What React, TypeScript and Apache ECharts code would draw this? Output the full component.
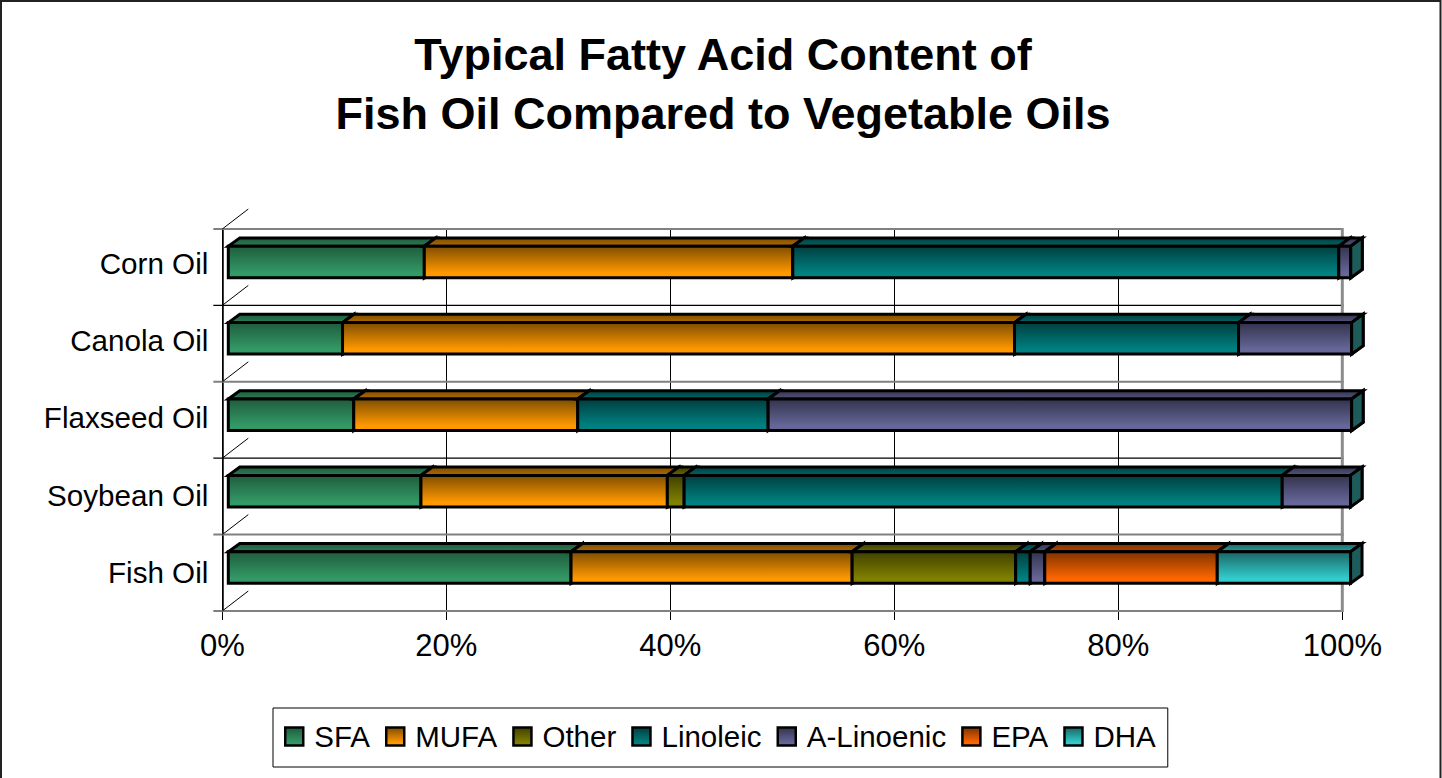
import React, { useEffect, useRef } from "react";
import * as echarts from "echarts";

const oils = ["Fish Oil", "Soybean Oil", "Flaxseed Oil", "Canola Oil", "Corn Oil"];
const sfa = [30.6, 17.2, 11.2, 10.2, 17.5];
const mufa = [25.1, 22, 20, 60, 32.9];
const other = [14.6, 1.5, 0, 0, 0];
const linoleic = [1.3, 53.4, 17, 20, 48.75];
const aLinoenic = [1.3, 6.1, 52.1, 10.1, 1.07];
const epa = [15.4, 0, 0, 0, 0];
const dha = [11.9, 0, 0, 0, 0];

const seriesNames = ["SFA", "MUFA", "Other", "Linoleic", "A-Linoenic", "EPA", "DHA"];
const seriesValues = [sfa, mufa, other, linoleic, aLinoenic, epa, dha];
// [bright, dark, top-face light, side]
const palette = [
  ["#339966", "#1f5c3d", "#2b7d54", "#1f5c3d"],
  ["#ff9900", "#7f4d00", "#b06a00", "#7f4d00"],
  ["#808000", "#404000", "#666600", "#4d4d00"],
  ["#008080", "#003f3f", "#006666", "#004d4d"],
  ["#666699", "#33334d", "#55557f", "#3d3d5c"],
  ["#ff6600", "#7f3300", "#b04700", "#803300"],
  ["#33cccc", "#1a6666", "#2a9d9d", "#1e5c5c"],
];
const boundaryColors = ["#808080", "#808080", "#000000", "#808080", "#000000", "#808080"];
const labelLift = [0, 1, 3, 3, 4];

const FONT = "'Liberation Sans', Arial, sans-serif";
const DX = 11.5;
const DY = 8.3;
const X_OFFSET = 6;
const FRONT_H = 31.5;
const FRONT_UP = 21;
const BAR_STROKE = 3;

function barRenderer(colors: string[], isLast: boolean) {
  return (_params: any, api: any) => {
    const cat = api.value(0);
    const start = api.value(1);
    const end = api.value(2);
    if (end - start <= 0 && !isLast) return null;
    const a = api.coord([start, cat]);
    const b = api.coord([end, cat]);
    const x0 = a[0] + X_OFFSET;
    const x1 = b[0] + X_OFFSET;
    const top = a[1] - FRONT_UP;
    const bottom = top + FRONT_H;
    const stroke = { stroke: "#000", lineWidth: BAR_STROKE, lineJoin: "miter" };
    const children: any[] = [];
    if (end - start > 0) {
      children.push({
        type: "polygon",
        shape: { points: [[x0, top], [x0 + DX, top - DY], [x1 + DX, top - DY], [x1, top]] },
        style: {
          fill: new echarts.graphic.LinearGradient(0, 0, 0, 1, [
            { offset: 0, color: colors[1] },
            { offset: 1, color: colors[2] },
          ]),
          ...stroke,
        },
      });
    }
    children.push({
      type: "polygon",
      shape: { points: [[x1, top], [x1 + DX, top - DY], [x1 + DX, bottom - DY], [x1, bottom]] },
      style: { fill: colors[3], ...stroke },
    });
    if (end - start > 0) {
      children.push({
        type: "rect",
        shape: { x: x0, y: top, width: x1 - x0, height: FRONT_H },
        style: {
          fill: new echarts.graphic.LinearGradient(0, 0, 0, 1, [
            { offset: 0, color: colors[1] },
            { offset: 0.85, color: colors[0] },
            { offset: 1, color: colors[0] },
          ]),
          ...stroke,
        },
      });
    }
    return { type: "group", children };
  };
}

function wallRenderer(_params: any, api: any) {
  const i = api.value(0);
  const c = api.coord([0, i]);
  const r = api.coord([100, i]);
  const band = api.size([0, 1])[1];
  const lines: any[] = [];
  const add = (y: number, color: string) => {
    lines.push({
      type: "line",
      shape: { x1: c[0] - 9, y1: y, x2: r[0], y2: y },
      style: { stroke: color, lineWidth: color === "#000000" ? 1.2 : 2 },
    });
    lines.push({
      type: "line",
      shape: { x1: c[0], y1: y, x2: c[0] + 26, y2: y - 20 },
      style: { stroke: "#000", lineWidth: 1 },
    });
  };
  add(c[1] + band / 2, boundaryColors[i]);
  if (i === oils.length - 1) add(c[1] - band / 2, boundaryColors[i + 1]);
  lines.push({
    type: "line",
    shape: { x1: r[0], y1: r[1] - band / 2 - 1, x2: r[0], y2: r[1] + band / 2 + 1 },
    style: { stroke: "#8c8c8c", lineWidth: 3 },
  });
  return { type: "group", children: lines };
}

export default function App() {
  const ref = useRef<HTMLDivElement>(null);
  useEffect(() => {
    document.body.style.margin = "0";
    document.body.style.overflow = "hidden";
    const chart = echarts.init(ref.current!, null, { renderer: "svg" });
    const barSeries = seriesNames.map((name, s) => {
      const data = oils.map((_, c) => {
        let start = 0;
        for (let k = 0; k < s; k++) start += seriesValues[k][c];
        return [c, start, start + seriesValues[s][c]];
      });
      return {
        type: "custom",
        name,
        data,
        encode: { x: [1, 2], y: 0 },
        clip: false,
        silent: true,
        z: 3,
        renderItem: barRenderer(palette[s], s === seriesNames.length - 1),
        itemStyle: {
          color: {
            type: "linear",
            x: 0,
            y: 0,
            x2: 0,
            y2: 1,
            colorStops: [
              { offset: 0, color: palette[s][1] },
              { offset: 0.85, color: palette[s][0] },
            ],
          },
        },
      };
    });
    const rich: Record<string, any> = {};
    labelLift.forEach((lift, i) => {
      rich["l" + i] = {
        fontFamily: FONT,
        fontSize: 29.6,
        color: "#000",
        padding: [0, 0, lift * 2, 0],
      };
    });
    chart.setOption({
      animation: false,
      backgroundColor: "#fff",
      title: {
        text: "Typical Fatty Acid Content of\nFish Oil Compared to Vegetable Oils",
        left: 723,
        top: 25,
        textAlign: "center",
        padding: 0,
        textStyle: {
          fontFamily: FONT,
          fontSize: 45,
          fontWeight: "bold",
          color: "#000",
          lineHeight: 59,
        },
      },
      graphic: [
        {
          type: "rect",
          shape: { x: 1, y: 1, width: 1439.5, height: 800 },
          style: { fill: "none", stroke: "#222", lineWidth: 2 },
          silent: true,
        },
      ],
      legend: {
        left: 273,
        top: 708,
        orient: "horizontal",
        icon: "rect",
        itemWidth: 18,
        itemHeight: 18,
        itemGap: 15,
        padding: [10.5, 12, 12.5, 11],
        borderColor: "#000",
        borderWidth: 1,
        selectedMode: false,
        data: seriesNames,
        itemStyle: { borderColor: "#000", borderWidth: 2.5 },
        textStyle: {
          fontFamily: FONT,
          fontSize: 29.5,
          color: "#000",
          padding: [0, 0, 4, 6],
          lineHeight: 32,
        },
      },
      grid: { left: 222.3, top: 229, width: 1120, height: 382 },
      xAxis: {
        type: "value",
        min: 0,
        max: 100,
        interval: 20,
        axisLine: { show: true, lineStyle: { color: "#808080", width: 2 } },
        axisTick: { show: true, length: 9, lineStyle: { color: "#000", width: 1 } },
        axisLabel: {
          formatter: "{value}%",
          fontFamily: FONT,
          fontSize: 31,
          color: "#000",
          margin: 19,
          showMinLabel: true,
          showMaxLabel: true,
        },
        splitLine: { show: true, lineStyle: { color: "#000", width: 1 } },
      },
      yAxis: {
        type: "category",
        data: oils,
        axisLine: { show: true, lineStyle: { color: "#000", width: 1.5 } },
        axisTick: { show: false },
        axisLabel: {
          fontFamily: FONT,
          fontSize: 29.6,
          color: "#000",
          margin: 14,
          formatter: (v: string, i: number) => `{l${i}|${v}}`,
          rich,
        },
        splitLine: { show: false },
      },
      series: [
        {
          type: "custom",
          name: "wall",
          data: oils.map((_, c) => [c]),
          encode: { y: 0 },
          clip: false,
          silent: true,
          z: 2,
          renderItem: wallRenderer,
        },
        ...barSeries,
      ],
    });
    return () => chart.dispose();
  }, []);
  return <div ref={ref} style={{ width: 1442, height: 778 }} />;
}
